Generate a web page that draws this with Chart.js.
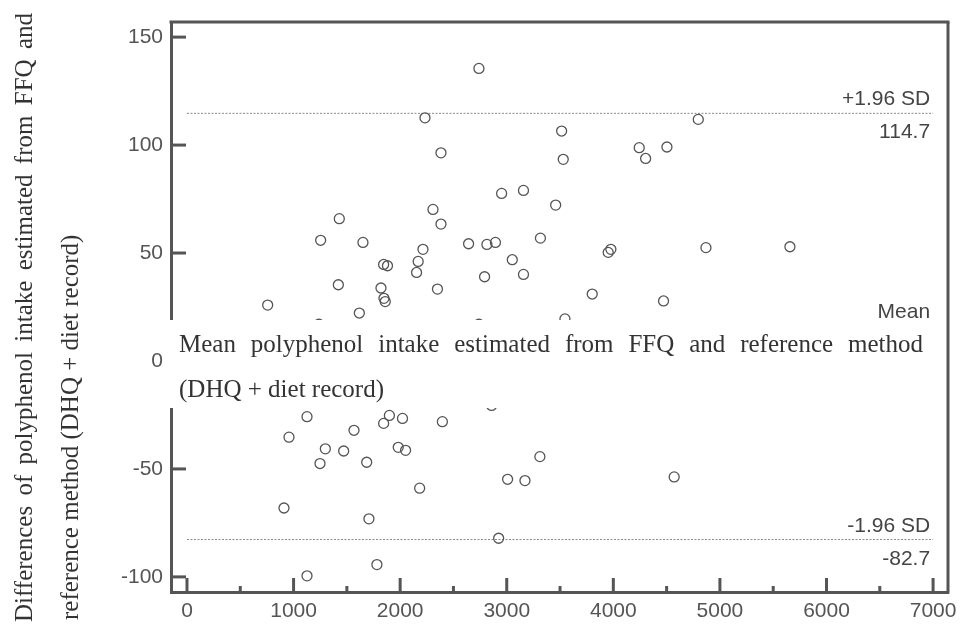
<!DOCTYPE html>
<html>
<head>
<meta charset="utf-8">
<script src="https://cdn.jsdelivr.net/npm/chart.js@4.4.1/dist/chart.umd.min.js"></script>
<style>
  html, body { margin: 0; padding: 0; background: #fff; }
  #wrap { width: 960px; height: 632px; }
</style>
</head>
<body>
<div id="wrap"><canvas id="grafba" width="960" height="632"></canvas></div>
<script>
// mean of the two methods (x) and their difference (y)
var meanVals = [2739, 2233, 2383, 2952, 3157, 2308, 1429, 2383, 3459, 3316,
                1254, 1651, 2642, 2814, 2894, 2214, 1845, 1881, 2169, 2154,
                3052, 3157, 2792, 1420, 1820, 2350, 1848, 1860, 757, 1617,
                1238, 2739, 3546, 4797, 3515, 3530, 4243, 4303, 4503, 3952,
                3977, 4869, 5657, 3802, 4471,
                2858, 1126, 1899, 2022, 1845, 2396, 1567, 957, 1298, 1470,
                1982, 2051, 1248, 1686, 3311, 3008, 3171, 2183, 910, 1707,
                2924, 1782, 1126, 4571];
var diffVals = [135.5, 112.6, 96.4, 77.6, 79.0, 70.2, 65.9, 63.4, 72.2, 56.9,
                55.9, 54.9, 54.3, 54.0, 54.9, 51.7, 44.7, 44.1, 46.1, 41.0,
                46.9, 40.1, 39.0, 35.3, 33.8, 33.3, 29.0, 27.5, 25.9, 22.2,
                17.0, 17.0, 19.5, 111.9, 106.5, 93.4, 98.8, 93.8, 99.1, 50.3,
                51.7, 52.5, 52.9, 31.0, 27.8,
                -20.6, -25.8, -25.2, -26.6, -28.9, -28.1, -32.1, -35.3, -40.7, -41.7,
                -40.0, -41.4, -47.5, -46.9, -44.3, -54.8, -55.4, -58.9, -68.1, -73.1,
                -82.1, -94.3, -99.5, -53.7];

var limitNames = ["+1.96 SD", "Mean", "-1.96 SD"];
var limitValues = [114.7, 16.0, -82.7];

var xTicks = [0, 1000, 2000, 3000, 4000, 5000, 6000, 7000];
var xMinor = [500, 1500, 2500, 3500, 4500, 5500, 6500];
var yTicks = [-100, -50, 0, 50, 100, 150];

var xTitle = ["Mean polyphenol intake estimated from FFQ and reference method",
              "(DHQ + diet record)"];
var yTitle = ["Differences of polyphenol intake estimated from FFQ and",
              "reference method (DHQ + diet record)"];

function seg(ctx, x1, y1, x2, y2){
    ctx.beginPath();
    ctx.moveTo(x1, y1);
    ctx.lineTo(x2, y2);
    ctx.stroke();
}

// spread the words of a line so it fills the given width
function justify(ctx, text, x0, width, yb){
    var words = text.split(" ");
    var total = 0;
    for (var i in words){ total += ctx.measureText(words[i]).width; }
    var gap = (width - total) / (words.length - 1);
    var cx = x0;
    for (var j in words){
        ctx.fillText(words[j], cx, yb);
        cx += ctx.measureText(words[j]).width + gap;
    }
}

var overlay = {
    id: "overlay",
    afterDatasetsDraw: function(chart){
        var ctx = chart.ctx, a = chart.chartArea;
        var x = chart.scales.x, y = chart.scales.y;
        ctx.save();

        // tick marks pointing into the plot
        ctx.strokeStyle = "#555";
        ctx.lineWidth = 3;
        yTicks.forEach(function(v){
            var py = y.getPixelForValue(v);
            seg(ctx, a.left, py, a.left + 15, py);
        });
        xTicks.forEach(function(v){
            var px = x.getPixelForValue(v);
            seg(ctx, px, a.bottom, px, a.bottom - 14);
        });
        xMinor.forEach(function(v){
            var px = x.getPixelForValue(v);
            seg(ctx, px, a.bottom, px, a.bottom - 6);
        });

        // labels of the limit lines
        ctx.font = '21px "Liberation Sans", Arial, sans-serif';
        ctx.fillStyle = "#444";
        ctx.textAlign = "right";
        ctx.textBaseline = "alphabetic";
        var rx = x.getPixelForValue(xTicks[xTicks.length - 1]) - 3;
        limitValues.forEach(function(v, i){
            var py = y.getPixelForValue(v);
            ctx.fillText(limitNames[i], rx, py - 8);
            ctx.fillText(v.toFixed(1), rx, py + 25);
        });

        // white box carrying the x axis title
        ctx.fillStyle = "#fff";
        ctx.fillRect(a.left - 6, 320, a.right - a.left + 4, 88);

        ctx.fillStyle = "#333";
        ctx.textAlign = "left";
        ctx.font = '25px "Liberation Serif", "Times New Roman", serif';
        justify(ctx, xTitle[0], 179, 744, 352);
        ctx.fillText(xTitle[1], 179, 397);

        // top and right frame
        ctx.strokeStyle = "#555";
        ctx.lineWidth = 3;
        seg(ctx, a.left - 1.5, a.top, a.right + 1.5, a.top);
        seg(ctx, a.right, a.top, a.right, a.bottom + 1.5);

        // y axis title
        ctx.save();
        ctx.translate(32, 622);
        ctx.rotate(-Math.PI / 2);
        justify(ctx, yTitle[0], 0, 609, 0);
        ctx.restore();
        ctx.save();
        ctx.translate(78, 620);
        ctx.rotate(-Math.PI / 2);
        ctx.fillText(yTitle[1], 0, 0);
        ctx.restore();

        ctx.restore();
    }
};

var puntos = [];
for (var i in meanVals){
    puntos.push({x: meanVals[i], y: diffVals[i]});
}

var datasets = [{
    data: puntos,
    pointRadius: 5,
    pointHoverRadius: 5,
    pointBorderWidth: 1.3,
    borderColor: "#555",
    backgroundColor: "rgba(0,0,0,0)"
}];
limitValues.forEach(function(v){
    datasets.push({
        type: "line",
        data: [{x: xTicks[0], y: v}, {x: xTicks[xTicks.length - 1], y: v}],
        borderColor: "#888",
        borderWidth: 1,
        borderDash: [2, 1.5],
        pointRadius: 0,
        fill: false
    });
});

var tickFont = { family: '"Liberation Sans", Arial, sans-serif', size: 21 };

var grafba = new Chart(document.getElementById("grafba"), {
    type: "scatter",
    data: { datasets: datasets },
    options: {
        responsive: false,
        animation: false,
        layout: { padding: { top: 22, right: 12, left: 0, bottom: 0 } },
        plugins: { legend: { display: false }, tooltip: { enabled: false } },
        scales: {
            x: {
                type: "linear",
                min: -150,
                max: 7140,
                afterBuildTicks: function(s){ s.ticks = xTicks.map(function(v){ return {value: v}; }); },
                afterFit: function(s){ s.height = 40; s.paddingRight = 0; s.paddingLeft = 0; },
                grid: { display: false, drawTicks: false },
                border: { display: true, color: "#555", width: 3 },
                ticks: {
                    font: tickFont, color: "#555", padding: 7, maxRotation: 0,
                    callback: function(v){ return String(v); }
                }
            },
            y: {
                type: "linear",
                min: -107,
                max: 157,
                afterBuildTicks: function(s){ s.ticks = yTicks.map(function(v){ return {value: v}; }); },
                afterFit: function(s){ s.width = 171; s.paddingTop = 0; s.paddingBottom = 0; },
                grid: { display: false, drawTicks: false },
                border: { display: true, color: "#555", width: 3 },
                ticks: {
                    font: tickFont, color: "#555", padding: 8,
                    callback: function(v){ return String(v); }
                }
            }
        }
    },
    plugins: [overlay]
});
</script>
</body>
</html>
